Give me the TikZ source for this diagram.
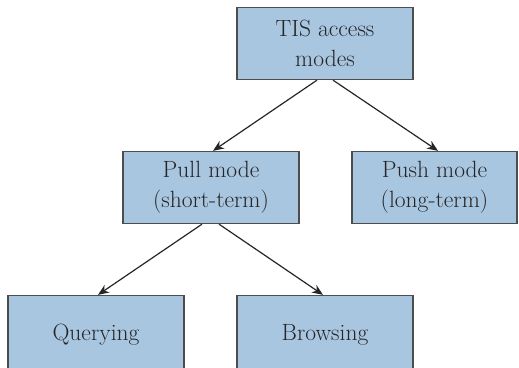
\documentclass[tikz,border=0pt]{standalone}
\usepackage{tikz}
\usetikzlibrary{arrows.meta}
\definecolor{boxblue}{HTML}{A9C6E1}
\definecolor{boxline}{HTML}{4D4D4D}
\definecolor{textgray}{HTML}{262626}

\begin{document}
\begin{tikzpicture}
 [box node/.style={node distance=144pt, rectangle, fill=boxblue, draw=boxline, line width=1.3pt, minimum width=176pt, minimum height=72pt, align=center, text=textgray, font=\fontsize{23.5}{30}\selectfont},
  link/.style={-{Stealth[length=11pt,width=9pt]}, line width=1.2pt, draw=black!85}]

 \useasboundingbox (-325pt,43.5pt) rectangle (194pt,-323.5pt);

 \node[box node] (tis) {TIS access\\modes};
 \node[box node] (pull) [below of=tis, xshift=-114pt] {Pull mode\\(short-term)};
\node[box node, minimum width=165pt] (push) [node distance=223.5pt, right of=pull] {Push mode\\(long-term)};

\node[box node, minimum height=78pt] (query) [below of=pull, xshift=-115pt, yshift=-3pt] {Querying};
\node[box node, minimum height=78pt] (browse) [node distance=229pt, right of=query] {Browsing};

\path
  ([xshift=-8pt]tis.south) edge [link] ([xshift=2pt]pull.north)
  ([xshift=8pt]tis.south) edge [link] ([xshift=3.5pt]push.north)

  ([xshift=-9pt]pull.south) edge [link] ([xshift=2pt]query.north)
  ([xshift=8pt]pull.south) edge [link] ([xshift=-2pt]browse.north);

\end{tikzpicture}
\end{document}
